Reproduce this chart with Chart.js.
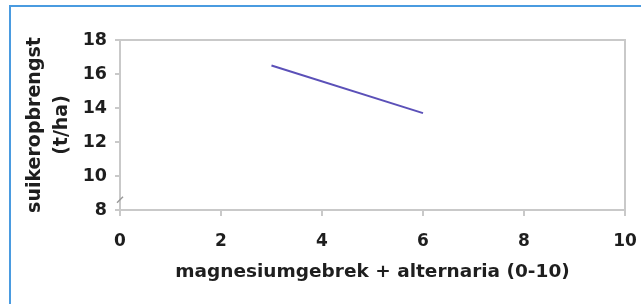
<!DOCTYPE html>
<html>
<head>
<meta charset="utf-8">
<script src="https://cdn.jsdelivr.net/npm/chart.js@4"></script>
<style>
  body { margin: 0; background: #fff; }
  #frame { position: absolute; left: 9px; top: 5px; width: 700px; height: 400px;
           border-top: 2px solid #4a9be0; border-left: 2px solid #4a9be0; }
  #wrap { position: absolute; left: 0; top: 0; width: 641px; height: 304px; }
</style>
</head>
<body>
<div id="frame"></div>
<div id="wrap"><canvas id="c" width="641" height="304"></canvas></div>
<script>
// data
const xValues = [3, 6];
const yValues = [16.5, 13.7];
const xTicks = [0, 2, 4, 6, 8, 10];
const yTicks = [8, 10, 12, 14, 16, 18];

const xTitle = 'magnesiumgebrek + alternaria (0-10)';
const yTitle = ['suikeropbrengst', '(t/ha)'];

const fontFamily = '"DejaVu Sans", Arial, sans-serif';
const textColor = '#1e1e1e';
const axisGray = '#c9c9c9';

// plot border and the axis break mark
const plotBox = {
    id: 'plotBox',
    afterDraw: function(chart) {
        const a = chart.chartArea;
        const ctx = chart.ctx;
        ctx.save();
        ctx.strokeStyle = axisGray;
        ctx.lineWidth = 2;
        ctx.strokeRect(a.left, a.top, a.right - a.left, a.bottom - a.top);
        // little break sign on the y axis
        const yb = chart.scales.y.getPixelForValue(8.6);
        ctx.lineWidth = 1.5;
        ctx.strokeStyle = '#9a9a9a';
        ctx.beginPath();
        ctx.moveTo(a.left - 3, yb + 3);
        ctx.lineTo(a.left + 3, yb - 3);
        ctx.stroke();
        ctx.restore();
    }
};

new Chart(document.getElementById('c'), {
    type: 'scatter',
    data: {
        datasets: [{
            data: xValues.map((x, i) => ({ x: x, y: yValues[i] })),
            showLine: true,
            borderColor: '#5b50b8',
            borderWidth: 2,
            pointRadius: 0,
            fill: false
        }]
    },
    options: {
        responsive: false,
        animation: false,
        layout: { padding: { top: 40, right: 16, left: 21, bottom: 21 } },
        plugins: { legend: { display: false }, tooltip: { enabled: false } },
        scales: {
            x: {
                type: 'linear',
                min: 0,
                max: 10,
                afterBuildTicks: function(scale) {
                    scale.ticks = xTicks.map(v => ({ value: v }));
                },
                afterFit: function(scale) {
                    scale.height = 73;
                    scale.paddingLeft = 0;
                    scale.paddingRight = 0;
                },
                grid: { display: true, drawOnChartArea: false, drawTicks: true,
                        tickLength: 6, color: axisGray, lineWidth: 2 },
                border: { display: false },
                ticks: { color: textColor, padding: 15,
                         font: { family: fontFamily, size: 17, weight: 'bold' } },
                title: { display: true, text: xTitle, color: textColor,
                         padding: { top: 2, bottom: 0 },
                         font: { family: fontFamily, size: 18.5, weight: 'bold' } }
            },
            y: {
                type: 'linear',
                min: 8,
                max: 18,
                afterBuildTicks: function(scale) {
                    scale.ticks = yTicks.map(v => ({ value: v }));
                },
                afterFit: function(scale) {
                    scale.width = 99;
                    scale.paddingTop = 0;
                    scale.paddingBottom = 0;
                },
                grid: { display: true, drawOnChartArea: false, drawTicks: true,
                        tickLength: 5, color: axisGray, lineWidth: 2 },
                border: { display: false },
                ticks: { color: textColor, padding: 8,
                         font: { family: fontFamily, size: 17.5, weight: 'bold' } },
                title: { display: true, text: yTitle, color: textColor,
                         padding: { top: 0, bottom: 0 },
                         font: { family: fontFamily, size: 19, weight: 'bold', lineHeight: 1.45 } }
            }
        }
    },
    plugins: [plotBox]
});
</script>
</body>
</html>
